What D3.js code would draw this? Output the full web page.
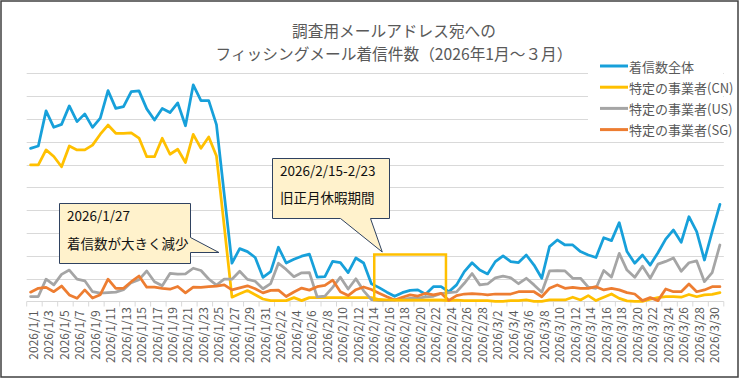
<!DOCTYPE html>
<html><head><meta charset="utf-8">
<script src="https://cdn.jsdelivr.net/npm/d3@7"></script>
<style>body{margin:0;background:#fff} svg{display:block} text{font-family:"Noto Sans CJK JP","Noto Sans",sans-serif}</style>
</head><body><svg id="c" width="740" height="380"></svg>
<script>
const titleLines = ["調査用メールアドレス宛への", "フィッシングメール着信件数（2026年1月～３月）"];
const seriesNames = ["着信数全体", "特定の事業者(CN)", "特定の事業者(US)", "特定の事業者(SG)"];
const seriesColors = ["#17A0DA", "#FFC000", "#A5A5A5", "#ED7D31"];
const monthDays = [31, 28, 31];
const dates = [];
monthDays.forEach((n, m) => { for (let d = 1; d <= n; d++) dates.push(`2026/${m + 1}/${d}`); });

const total = [67.1,68.1,83.5,76.3,77.6,85.7,78.8,82.2,76.3,80.3,
92.4,84.6,85.4,92.0,92.3,84.4,79.5,84.6,82.8,87.0,
77.0,94.9,88.0,88.0,77.5,47,16.7,23.1,21.8,19.2,
10.5,13.0,23.7,16.8,18.4,19.8,20.7,10.6,10.8,17.5,
17.0,12.6,19.0,16.8,7.7,6.0,4.0,2.2,3.8,4.8,
5.0,3.1,6.4,6.4,4.2,7.2,13.0,16.9,13.7,12.0,
17.4,19.9,17.4,17.0,20.3,15.9,10.1,24.0,26.9,24.7,
24.7,21.8,20.3,19.2,27.9,26.6,34.5,21.8,16.7,20.3,
15.9,21.3,27.3,31.3,25.9,37.1,30.6,18.1,30.6,42.5];
const cn = [59.8,59.8,66.4,63.5,59.0,68.1,66.4,66.4,68.5,73.3,
77.3,73.7,73.6,73.9,71.6,63.4,63.4,71.5,64.5,66.7,
60.9,73.2,67.1,72.1,63.7,33,1.8,3.3,4.7,2.9,
1.0,0.3,0.3,0.3,1.6,0.3,1.6,1.6,1.6,1.6,
1.6,1.6,1.6,1.6,1.6,0.8,0.5,0.5,0.5,0.5,
0.5,0.5,0.5,0.5,0.3,0.5,0.3,0.3,0.3,0.3,
0,0,0.3,0.3,0.6,0,0,0.6,0.6,0.6,
1.8,0.6,2.5,0.3,1.8,3.2,1.3,0.2,0,0,
0.9,1.6,2.0,2.0,1.8,3.0,2.0,2.8,3.0,3.8];
const us = [2.1,2.1,9.7,7.2,11.8,13.7,9.7,9.0,4.2,3.6,
3.8,4.0,5.1,8.2,9.5,13.3,8.6,6.8,12.2,11.9,
12.0,14.5,13.5,9.8,7.1,9.7,9.7,13.2,9.6,8.8,
5.5,7.8,16.7,14.0,10.8,12.5,12.6,1.9,2.3,6.1,
10.6,5.4,9.9,4.6,0.7,0.3,0.3,0.6,0.9,1.3,
1.3,1.9,2.2,3.4,3.8,4.1,7.9,12.2,7.2,7.6,
10.3,11.0,10.3,7.7,10.1,7.2,4.0,13.3,13.4,13.3,
10.1,10.1,6.2,5.7,13.5,10.6,21.0,13.7,10.5,15.4,
10.1,16.3,17.5,19.0,13.2,16.9,17.7,8.6,12.6,24.7];
const sg = [4.0,5.7,6.1,4.2,6.7,2.8,1.3,5.0,1.4,2.9,
9.7,5.7,5.7,8.6,11.1,6.2,6.2,5.7,5.3,6.5,
3.7,6.2,6.1,6.4,6.7,7.2,5.0,5.9,6.8,5.5,
3.7,4.8,4.9,2.1,4.1,5.8,4.9,6.4,7.0,9.3,
4.2,2.5,5.1,6.3,5.2,3.5,2.0,0.6,1.8,2.8,
2.3,3.5,2.8,3.5,0.4,2.5,3.2,3.4,3.2,2.8,
3.2,3.2,3.2,4.2,4.2,4.2,2.0,5.7,7.2,5.7,
6.1,5.7,5.7,6.4,5.0,5.7,5.0,3.8,3.2,0.3,
1.6,0.3,5.4,4.2,4.2,7.6,4.2,5.0,6.4,6.4];
const yTicks = [10,20,30,40,50,60,70,80,90,100];
const note1 = ["2026/1/27", "着信数が大きく減少"];
const note2 = ["2026/2/15-2/23", "旧正月休暇期間"];
const holidayStart = "2026/2/15", holidayEnd = "2026/2/23";

const series = [total, cn, us, sg];
const svg = d3.select("#c");

// chart border
svg.append("rect").attr("x", 1).attr("y", 1).attr("width", 737).attr("height", 376)
  .attr("fill", "#fff").attr("stroke", "#404040").attr("stroke-width", 1.5);

const x = d3.scaleBand().domain(dates).range([26.7, 723.8]).padding(0);
const bw = x.bandwidth();
const cx = d => x(d) + bw / 2;
const y = d3.scaleLinear().domain([0, 100]).range([301.3, 73.3]);

// gridlines
svg.append("g").selectAll("line").data(yTicks).join("line")
  .attr("x1", 26.7).attr("x2", 723.8)
  .attr("y1", d => Math.round(y(d)) + 0.5).attr("y2", d => Math.round(y(d)) + 0.5)
  .attr("stroke", "#D9D9D9").attr("stroke-width", 1);

// x axis
const ax = svg.append("g").attr("transform", `translate(0,${Math.round(y(0)) + 0.5})`);
ax.append("line").attr("x1", 26.7).attr("x2", 723.8).attr("stroke", "#D9D9D9");
const tickIdx = d3.range(0, dates.length + 1, 2);
ax.selectAll("line.t").data(tickIdx).join("line").attr("class", "t")
  .attr("x1", i => (i < dates.length ? x(dates[i]) : x.range()[1]))
  .attr("x2", i => (i < dates.length ? x(dates[i]) : x.range()[1]))
  .attr("y1", 0).attr("y2", 5).attr("stroke", "#D9D9D9");
const labelDates = dates.filter((d, i) => i % 2 === 0);
svg.append("g").selectAll("text").data(labelDates).join("text")
  .attr("transform", d => `translate(${cx(d) + 1.5},335) rotate(-90)`)
  .attr("text-anchor", "middle").attr("dominant-baseline", "central")
  .attr("font-size", 12).attr("fill", "#595959").text(d => d);

// lines
const line = d3.line().x((v, i) => cx(dates[i])).y(v => y(v));
series.forEach((s, k) => {
  svg.append("path").datum(s).attr("d", line).attr("fill", "none")
    .attr("stroke", seriesColors[k]).attr("stroke-width", 2.75)
    .attr("stroke-linejoin", "round").attr("stroke-linecap", "round");
});

// title
svg.append("g").selectAll("text").data(titleLines).join("text")
  .attr("x", 394).attr("y", (d, i) => 30 + i * 23).attr("text-anchor", "middle")
  .attr("dominant-baseline", "central").attr("font-size", 15.7).attr("fill", "#595959").text(d => d);

// legend
const lg = svg.append("g");
lg.append("rect").attr("x", 588).attr("y", 56).attr("width", 135).attr("height", 82).attr("fill", "#fff");
seriesNames.forEach((n, k) => {
  const yy = 66 + k * 21.2;
  lg.append("line").attr("x1", 600).attr("x2", 628).attr("y1", yy).attr("y2", yy)
    .attr("stroke", seriesColors[k]).attr("stroke-width", 3);
  lg.append("text").attr("x", 629).attr("y", yy).attr("dominant-baseline", "central")
    .attr("font-size", 13).attr("fill", "#595959").text(n);
});

// callout 1 (1/27 drop)
const t1 = cx("2026/1/27") - 13;
const c1 = svg.append("g");
c1.append("path")
  .attr("d", `M59.5,203.5 H190.5 V237.5 L${t1},252.5 L190.5,252.5 V263.5 H59.5 Z`)
  .attr("fill", "#FFF2CC").attr("stroke", "#2F4260").attr("stroke-width", 1);
c1.selectAll("text").data(note1).join("text")
  .attr("x", 67).attr("y", (d, i) => 215 + i * 28).attr("dominant-baseline", "central")
  .attr("font-size", 13.5).attr("fill", "#111").text(d => d);

// holiday highlight rectangle
const hx0 = x(holidayStart) - 1, hx1 = x(holidayEnd) + bw + 1;
svg.append("rect").attr("x", hx0).attr("y", 254.5).attr("width", hx1 - hx0).attr("height", 45.5)
  .attr("fill", "none").attr("stroke", "#FFC000").attr("stroke-width", 2.5);

// callout 2 (holiday)
const c2 = svg.append("g");
c2.append("path")
  .attr("d", `M272.5,158.5 H389.5 V218.5 H370.5 L${hx0 + 8},252 L340.5,218.5 H272.5 Z`)
  .attr("fill", "#FFF2CC").attr("stroke", "#2F4260").attr("stroke-width", 1);
c2.selectAll("text").data(note2).join("text")
  .attr("x", 280).attr("y", (d, i) => 170 + i * 26.5).attr("dominant-baseline", "central")
  .attr("font-size", 13.5).attr("fill", "#111").text(d => d);
</script></body></html>
